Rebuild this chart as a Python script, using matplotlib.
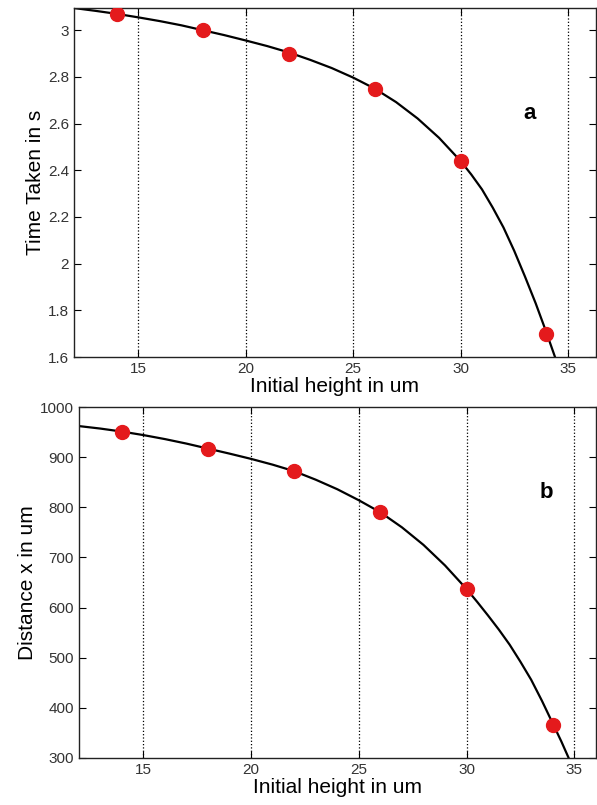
import matplotlib.pyplot as plt

plt.rcParams['font.family'] = ['Liberation Sans', 'DejaVu Sans']

# measured points
h_pts = [14, 18, 22, 26, 30, 34]
t_pts = [3.07, 3.0, 2.9, 2.75, 2.44, 1.70]
d_pts = [950, 916, 872, 790, 637, 365]

# fitted curves
h_fit_a = [12, 13, 14, 15, 16, 17, 18, 19, 20, 21, 22, 23, 24, 25, 26, 27, 28, 29,
           30, 30.5, 31, 31.5, 32, 32.5, 33, 33.5, 34, 34.4]
t_fit = [3.095, 3.083, 3.07, 3.055, 3.039, 3.021, 3.0, 2.979, 2.956, 2.932, 2.905,
         2.873, 2.838, 2.797, 2.75, 2.692, 2.622, 2.539, 2.44, 2.382, 2.318, 2.24,
         2.155, 2.055, 1.945, 1.83, 1.705, 1.6]
h_fit_b = [12, 13, 14, 15, 16, 17, 18, 19, 20, 21, 22, 23, 24, 25, 26, 27, 28, 29,
           30, 30.5, 31, 31.5, 32, 32.5, 33, 33.5, 34, 34.4, 34.74]
d_fit = [962, 957, 951, 944, 936, 927, 917, 907, 896.5, 885, 872, 855, 836, 814, 790,
         760, 725, 684, 637, 611, 584, 556, 526, 492, 456, 414, 369, 333, 300]

xticks = [15, 20, 25, 30, 35]

fig = plt.figure(figsize=(5.97, 8.05), dpi=100)
ax1 = fig.add_axes([0.124, 0.5565, 0.874, 0.4335])
ax2 = fig.add_axes([0.132, 0.0584, 0.866, 0.436])


def style(ax):
    ax.set_xticks(xticks)
    ax.xaxis.grid(True, linestyle=':', color='black', linewidth=0.9)
    ax.tick_params(direction='in', top=True, right=True, length=5,
                   labelsize=11, labelcolor='#333333', width=0.8)
    for s in ax.spines.values():
        s.set_linewidth(1.0)
        s.set_color('#222222')
    ax.set_xlabel('Initial height in um', fontsize=15, labelpad=1)


ax1.plot(h_fit_a, t_fit, color='black', linewidth=1.6, zorder=2)
ax1.plot(h_pts, t_pts, 'o', color='#e41a1c', markersize=10, zorder=3)
ax1.set_xlim(12, 36.3)
ax1.set_ylim(1.6, 3.095)
ax1.set_yticks([1.6, 1.8, 2.0, 2.2, 2.4, 2.6, 2.8, 3.0])
ax1.set_yticklabels(['1.6', '1.8', '2', '2.2', '2.4', '2.6', '2.8', '3'])
ax1.set_ylabel('Time Taken in s', fontsize=15, labelpad=2)
ax1.text(33.2, 2.645, 'a', fontsize=16, fontweight='bold', ha='center', va='center')
style(ax1)

ax2.plot(h_fit_b, d_fit, color='black', linewidth=1.6, zorder=2)
ax2.plot(h_pts, d_pts, 'o', color='#e41a1c', markersize=10, zorder=3)
ax2.set_xlim(12, 36.0)
ax2.set_ylim(300, 1000)
ax2.set_yticks([300, 400, 500, 600, 700, 800, 900, 1000])
ax2.set_ylabel('Distance x in um', fontsize=15, labelpad=2)
ax2.text(33.7, 830, 'b', fontsize=16, fontweight='bold', ha='center', va='center')
style(ax2)

fig.savefig('out.png', dpi=100)
